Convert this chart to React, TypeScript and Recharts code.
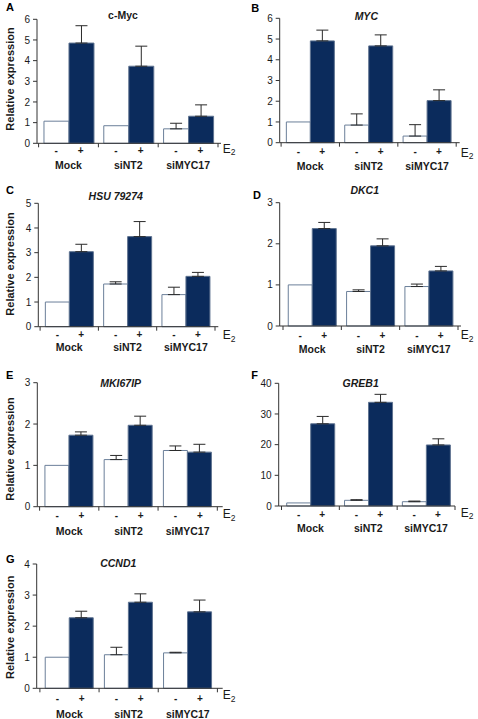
import React from 'react';
import { BarChart, Bar, XAxis, YAxis, ErrorBar } from 'recharts';

const groups = ['Mock', 'siNT2', 'siMYC17'];

// A: c-Myc
const aMinus = [1.07, 0.85, 0.7];
const aMinusErr = [null, null, 0.27];
const aPlus = [4.85, 3.73, 1.31];
const aPlusErr = [0.84, 0.97, 0.55];
const aTicks = [0, 1, 2, 3, 4, 5, 6];

// B: MYC
const bMinus = [1.0, 0.85, 0.32];
const bMinusErr = [null, 0.54, 0.55];
const bPlus = [4.91, 4.67, 2.03];
const bPlusErr = [0.52, 0.53, 0.52];
const bTicks = [0, 1, 2, 3, 4, 5, 6];

// C: HSU 79274
const cMinus = [1.0, 1.73, 1.3];
const cMinusErr = [null, 0.09, 0.3];
const cPlus = [3.04, 3.65, 2.04];
const cPlusErr = [0.3, 0.61, 0.16];
const cTicks = [0, 1, 2, 3, 4, 5];

// D: DKC1
const dMinus = [1.0, 0.84, 0.96];
const dMinusErr = [null, 0.04, 0.06];
const dPlus = [2.37, 1.95, 1.34];
const dPlusErr = [0.15, 0.17, 0.11];
const dTicks = [0, 1, 2, 3];

// E: MKI67IP
const eMinus = [1.0, 1.14, 1.36];
const eMinusErr = [null, 0.1, 0.11];
const ePlus = [1.73, 1.97, 1.32];
const ePlusErr = [0.08, 0.22, 0.19];
const eTicks = [0, 1, 2, 3];

// F: GREB1
const fMinus = [1.0, 1.85, 1.4];
const fMinusErr = [null, 0.2, 0.2];
const fPlus = [26.8, 33.8, 19.9];
const fPlusErr = [2.4, 2.6, 2.0];
const fTicks = [0, 10, 20, 30, 40];

// G: CCND1
const gMinus = [1.0, 1.08, 1.14];
const gMinusErr = [null, 0.24, 0.02];
const gPlus = [2.27, 2.77, 2.46];
const gPlusErr = [0.21, 0.27, 0.38];
const gTicks = [0, 1, 2, 3, 4];

const FONT = '"Liberation Sans", Arial, Helvetica, sans-serif';
const NAVY = '#0b2b5c';
const TEXT = '#1a1a1a';
const AXIS = '#333333';

type Spec = {
  letter: string;
  title: string;
  italic: boolean;
  minus: number[];
  minusErr: (number | null)[];
  plus: number[];
  plusErr: (number | null)[];
  ticks: number[];
  px: number;
  py: number;
  h: number;
  axisX: number;
  axisEnd: number;
  plotTop: number;
  plotBottom: number;
  bandLeft: number;
  bandRight: number;
  pmDy: number;
  labDy: number;
  tx: number;
  ty: number;
  lx: number;
  ly: number;
  yLabelY: number | null;
  eY: number;
};

const specs: Spec[] = [
  { letter: 'A', title: 'c-Myc', italic: false, minus: aMinus, minusErr: aMinusErr, plus: aPlus, plusErr: aPlusErr, ticks: aTicks,
    px: 0, py: 0, h: 180, axisX: 37, axisEnd: 221, plotTop: 19.3, plotBottom: 143.3, bandLeft: 38.6, bandRight: 218,
    pmDy: 7.4, labDy: 21.7, tx: 123, ty: 15, lx: 6, ly: 6.5, yLabelY: 79, eY: 152.7 },
  { letter: 'B', title: 'MYC', italic: true, minus: bMinus, minusErr: bMinusErr, plus: bPlus, plusErr: bPlusErr, ticks: bTicks,
    px: 238, py: 0, h: 180, axisX: 41.7, axisEnd: 221.7, plotTop: 18.3, plotBottom: 142.7, bandLeft: 43.1, bandRight: 218.2,
    pmDy: 9, labDy: 23, tx: 128.3, ty: 16, lx: 13.3, ly: 8.3, yLabelY: null, eY: 156.7 },
  { letter: 'C', title: 'HSU 79274', italic: true, minus: cMinus, minusErr: cMinusErr, plus: cPlus, plusErr: cPlusErr, ticks: cTicks,
    px: 0, py: 180, h: 180, axisX: 38.3, axisEnd: 218.3, plotTop: 23.3, plotBottom: 146.7, bandLeft: 40.1, bandRight: 215,
    pmDy: 7.3, labDy: 20.6, tx: 115.7, ty: 16, lx: 6, ly: 10, yLabelY: 84, eY: 159.3 },
  { letter: 'D', title: 'DKC1', italic: true, minus: dMinus, minusErr: dMinusErr, plus: dPlus, plusErr: dPlusErr, ticks: dTicks,
    px: 238, py: 180, h: 180, axisX: 41.7, axisEnd: 223, plotTop: 22.7, plotBottom: 146, bandLeft: 45, bandRight: 220,
    pmDy: 9, labDy: 23.3, tx: 126.7, ty: 10, lx: 15, ly: 15, yLabelY: null, eY: 159.3 },
  { letter: 'E', title: 'MKI67IP', italic: true, minus: eMinus, minusErr: eMinusErr, plus: ePlus, plusErr: ePlusErr, ticks: eTicks,
    px: 0, py: 360, h: 180, axisX: 37.3, axisEnd: 222.7, plotTop: 22.7, plotBottom: 146.7, bandLeft: 39.6, bandRight: 217.3,
    pmDy: 8.3, labDy: 24, tx: 120.7, ty: 23.3, lx: 6, ly: 15, yLabelY: 89, eY: 158.3 },
  { letter: 'F', title: 'GREB1', italic: true, minus: fMinus, minusErr: fMinusErr, plus: fPlus, plusErr: fPlusErr, ticks: fTicks,
    px: 238, py: 360, h: 180, axisX: 40.7, axisEnd: 217, plotTop: 23.3, plotBottom: 146, bandLeft: 43.5, bandRight: 217,
    pmDy: 8, labDy: 22.3, tx: 122.7, ty: 23.3, lx: 13.3, ly: 15, yLabelY: null, eY: 156.7 },
  { letter: 'G', title: 'CCND1', italic: true, minus: gMinus, minusErr: gMinusErr, plus: gPlus, plusErr: gPlusErr, ticks: gTicks,
    px: 0, py: 540, h: 179, axisX: 36.7, axisEnd: 222.7, plotTop: 24, plotBottom: 148.3, bandLeft: 39.9, bandRight: 217.4,
    pmDy: 10, labDy: 25.7, tx: 118.3, ty: 23.3, lx: 6, ly: 19, yLabelY: 87.3, eY: 159.3 },
];

const W = 238;

function Panel({ s }: { s: Spec }) {
  const data = groups.map((g, i) => ({
    group: g,
    minus: s.minus[i],
    plus: s.plus[i],
    minusErr: s.minusErr[i] == null ? null : [0, s.minusErr[i]],
    plusErr: s.plusErr[i] == null ? null : [0, s.plusErr[i]],
  }));
  const fallbackHalf = (s.bandRight - s.bandLeft) / 6;
  const Tick = (props: any) => {
    const { x, payload, index } = props;
    const half = payload && typeof payload.offset === 'number' && payload.offset > 0 ? payload.offset : fallbackHalf;
    const yb = s.plotBottom;
    const barHalf = half * 0.41;
    return (
      <g>
        {index === 0 && <line x1={x - half} x2={x - half} y1={yb} y2={yb + 4} stroke={AXIS} strokeWidth={1} />}
        <line x1={x + half} x2={x + half} y1={yb} y2={yb + 4} stroke={AXIS} strokeWidth={1} />
        <text x={x - barHalf} y={yb + s.pmDy} textAnchor="middle" dominantBaseline="central"
          fontFamily={FONT} fontSize={10} fontWeight="bold" fill={TEXT}>-</text>
        <text x={x + barHalf} y={yb + s.pmDy} textAnchor="middle" dominantBaseline="central"
          fontFamily={FONT} fontSize={10} fontWeight="bold" fill={TEXT}>+</text>
        <text x={x} y={yb + s.labDy} textAnchor="middle" dominantBaseline="central"
          fontFamily={FONT} fontSize={10.5} fontWeight="bold" fill={TEXT}>{payload.value}</text>
      </g>
    );
  };
  const padL = Math.max(0, s.bandLeft - s.axisX);
  const padR = Math.max(0, s.axisEnd - s.bandRight);
  return (
    <div style={{ position: 'absolute', left: s.px, top: s.py, width: W, height: s.h }}>
      <BarChart
        width={W}
        height={s.h}
        data={data}
        margin={{ top: s.plotTop, right: W - s.axisEnd, left: 0, bottom: 0 }}
        barCategoryGap="9%"
        barGap={0}
      >
        <XAxis
          dataKey="group"
          height={s.h - s.plotBottom}
          axisLine={{ stroke: AXIS, strokeWidth: 1 }}
          tickLine={false}
          tick={<Tick />}
          interval={0}
          padding={{ left: padL, right: padR }}
        />
        <YAxis
          width={s.axisX}
          domain={[0, s.ticks[s.ticks.length - 1]]}
          ticks={s.ticks}
          interval={0}
          tickSize={4}
          tickMargin={3}
          axisLine={{ stroke: AXIS, strokeWidth: 1 }}
          tickLine={{ stroke: AXIS, strokeWidth: 1 }}
          tick={{ fontFamily: FONT, fontSize: 10, fill: TEXT }}
        />
        <Bar dataKey="minus" fill="#ffffff" stroke="#6b7f99" strokeWidth={1} isAnimationActive={false}>
          <ErrorBar dataKey="minusErr" width={6} stroke="#2a2a2a" strokeWidth={1} direction="y" isAnimationActive={false} />
        </Bar>
        <Bar dataKey="plus" fill={NAVY} stroke="#5f7390" strokeWidth={1} isAnimationActive={false}>
          <ErrorBar dataKey="plusErr" width={6} stroke="#2a2a2a" strokeWidth={1} direction="y" isAnimationActive={false} />
        </Bar>
      </BarChart>
      <svg width={W} height={s.h} style={{ position: 'absolute', left: 0, top: 0, pointerEvents: 'none', overflow: 'visible' }}>
        <text x={s.lx} y={s.ly} dominantBaseline="central" fontFamily={FONT} fontSize={11} fontWeight="bold" fill="#000">{s.letter}</text>
        <text x={s.tx} y={s.ty} textAnchor="middle" dominantBaseline="central" fontFamily={FONT} fontSize={10.5}
          fontWeight="bold" fontStyle={s.italic ? 'italic' : 'normal'} fill={TEXT}>{s.title}</text>
        {s.yLabelY != null && (
          <text x={10} y={s.yLabelY} transform={`rotate(-90 10 ${s.yLabelY})`} textAnchor="middle" dominantBaseline="central"
            fontFamily={FONT} fontSize={11} fontWeight="bold" fill={TEXT}>Relative expression</text>
        )}
        <text x={222.7} y={s.eY} fontFamily={FONT} fontSize={12} fill={TEXT}>
          E<tspan fontSize={8.5} dy={2.5}>2</tspan>
        </text>
      </svg>
    </div>
  );
}

export default function App() {
  return (
    <div style={{ position: 'absolute', left: 0, top: 0, width: 478, height: 719, background: '#ffffff', overflow: 'hidden' }}>
      {specs.map((s) => (
        <Panel key={s.letter} s={s} />
      ))}
    </div>
  );
}
